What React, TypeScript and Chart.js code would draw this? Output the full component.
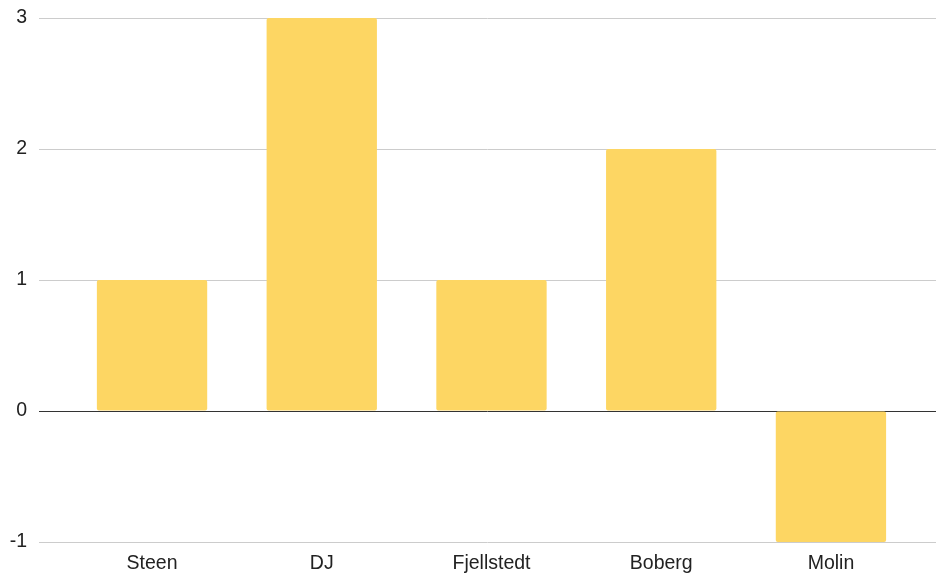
import React, { useEffect, useRef } from "react";
import { Chart, registerables } from "chart.js";

Chart.register(...registerables);

const categories = ["Steen", "DJ", "Fjellstedt", "Boberg", "Molin"];
const values = [1, 3, 1, 2, -1];
const yTicks = [-1, 0, 1, 2, 3];

export default function App() {
  const ref = useRef<HTMLCanvasElement | null>(null);
  useEffect(() => {
    document.body.style.margin = "0";
    const canvas = ref.current;
    if (!canvas) return;
    const font = { family: "Arial, 'Liberation Sans', sans-serif", size: 19.5 };
    const chart = new Chart(canvas, {
      type: "bar",
      data: {
        datasets: [
          {
            data: values.map((v, i) => ({ x: i, y: v })),
            backgroundColor: "#FDD663",
            borderRadius: 2,
            borderSkipped: false,
            barPercentage: 0.65,
            categoryPercentage: 1,
          },
        ],
      },
      options: {
        animation: false,
        responsive: false,
        maintainAspectRatio: false,
        layout: { padding: { top: 18, right: 0, left: 0, bottom: 0 } },
        plugins: { legend: { display: false }, tooltip: { enabled: false } },
        scales: {
          x: {
            type: "linear",
            offset: false,
            min: -0.666,
            max: 4.619,
            grid: { display: false, drawTicks: false, offset: false },
            border: { display: false },
            afterBuildTicks: (axis: any) => {
              axis.ticks = categories.map((_, i) => ({ value: i }));
            },
            afterFit: (axis: any) => {
              axis.height = 34;
              axis.paddingLeft = 0;
              axis.paddingRight = 0;
            },
            ticks: {
              autoSkip: false,
              maxRotation: 0,
              padding: 10,
              color: "#222",
              font,
              callback: (v: any) => categories[v] ?? "",
            },
          },
          y: {
            min: yTicks[0],
            max: yTicks[yTicks.length - 1],
            afterBuildTicks: (axis: any) => {
              axis.ticks = yTicks.map((v) => ({ value: v }));
            },
            afterFit: (axis: any) => {
              axis.width = 39;
              axis.paddingTop = 0;
              axis.paddingBottom = 0;
            },
            border: { display: false },
            grid: {
              drawTicks: false,
              color: (ctx: any) => (ctx.tick && ctx.tick.value === 0 ? "#333333" : "#cccccc"),
              lineWidth: 1,
            },
            ticks: {
              padding: 12,
              color: "#222",
              font,
            },
          },
        },
      },
    });
    return () => chart.destroy();
  }, []);
  return (
    <div style={{ width: 936, height: 576, background: "#fff" }}>
      <canvas ref={ref} width={936} height={576} style={{ display: "block" }} />
    </div>
  );
}
